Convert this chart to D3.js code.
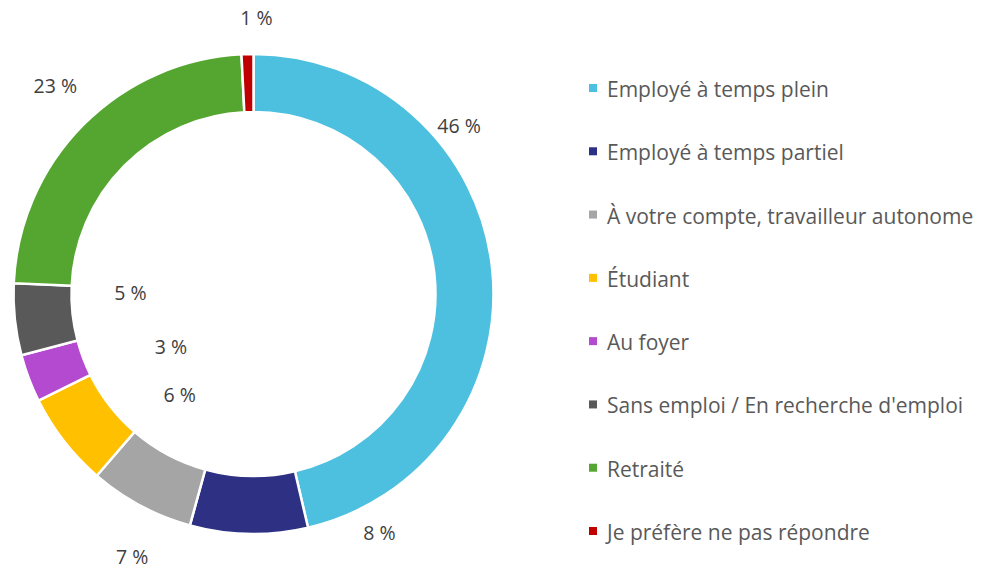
<!DOCTYPE html>
<html><head><meta charset="utf-8">
<script src="https://cdn.jsdelivr.net/npm/d3@7"></script>
<style>body{margin:0;background:#fff;} svg{display:block;}</style>
</head><body>
<svg id="chart" width="981" height="569"></svg>
<script>
const categories = ["Employé à temps plein","Employé à temps partiel","À votre compte, travailleur autonome","Étudiant","Au foyer","Sans emploi / En recherche d'emploi","Retraité","Je préfère ne pas répondre"];
const values = [46.35, 7.92, 7.06, 6.34, 3.22, 4.83, 23.48, 0.8];
const labels = ["46 %","8 %","7 %","6 %","3 %","5 %","23 %","1 %"];
const colors = ["#4DC0E0","#2E3083","#A5A5A5","#FFC000","#B44AD0","#595959","#55A630","#C00000"];
// label placement (polar, degrees clockwise from top, radius in px)
const labelAngle = [50.6, 152.2, 204.8, 216.2, 237.4, 270.5, 316.5, 0.6];
const labelRadius = [266, 270, 289, 125, 98, 123, 288, 277];

const FONT = "'Open Sans', sans-serif";
const svg = d3.select("#chart");
const cx = 253.5, cy = 294, outerR = 240, innerR = 182;
const g = svg.append("g").attr("transform", `translate(${cx},${cy})`);
const pie = d3.pie().sort(null).value(d => d)(values);
const arc = d3.arc().innerRadius(innerR).outerRadius(outerR);
g.selectAll("path").data(pie).join("path")
  .attr("d", arc).attr("fill", (d,i) => colors[i])
  .attr("stroke", "#fff").attr("stroke-width", 2.5).attr("stroke-linejoin","miter");

g.selectAll("text.lbl").data(labels).join("text").attr("class","lbl")
  .attr("x", (d,i) => labelRadius[i]*Math.sin(labelAngle[i]*Math.PI/180))
  .attr("y", (d,i) => -labelRadius[i]*Math.cos(labelAngle[i]*Math.PI/180))
  .attr("text-anchor","middle").attr("dominant-baseline","central")
  .attr("font-family", FONT).attr("font-size", 19.5)
  .attr("fill","#404040").text(d => d);

const legend = svg.append("g");
const ly = d3.scalePoint().domain(categories).range([88, 531]);
const items = legend.selectAll("g").data(categories).join("g")
  .attr("transform", d => `translate(589,${ly(d)})`);
items.append("rect").attr("x",0).attr("y",-4).attr("width",8).attr("height",8)
  .attr("fill", (d,i) => colors[i]);
items.append("text").attr("x",18).attr("y",1).attr("dominant-baseline","central")
  .attr("font-family", FONT).attr("font-size", 21)
  .attr("fill","#595959").text(d => d);
</script>
</body></html>
